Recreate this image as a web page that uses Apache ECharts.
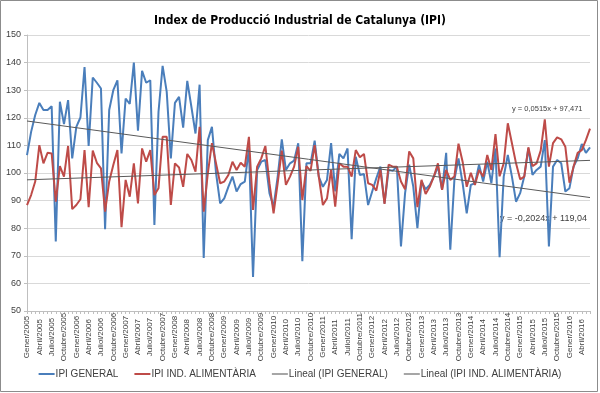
<!DOCTYPE html>
<html><head><meta charset="utf-8">
<script src="https://cdn.jsdelivr.net/npm/echarts@6/dist/echarts.min.js"></script>
<style>html,body{margin:0;padding:0;background:#fff}#c{width:600px;height:393px}</style>
</head><body><div id="c"></div>
<script>
const monthNames = ["Gener","Febrer","Març","Abril","Maig","Juny","Juliol","Agost","Setembre","Octubre","Novembre","Desembre"];
const startYear = 2005;
const monthCount = 138;
const categories = [];
for (let i = 0; i < monthCount; i++) categories.push(monthNames[i % 12] + "/" + (startYear + Math.floor(i / 12)));

const ipiGeneral = [
106.5,114.9,121,125.4,122.8,122.8,124.2,75.2,125.8,117.7,126.4,105.3,
116.7,120.1,138.4,109.8,134.6,132.7,130.6,79.6,122.8,130,133.6,107.1,
127,125,140,115.3,137,132.7,133.6,81.2,122.2,138.8,129.4,105.3,
125.4,127.6,116.4,133.4,124,114.3,132,69.2,111.9,116.7,100,89,
90.8,95,98.7,93.3,96,96.9,108.9,62.3,101.1,104.1,104.7,92.7,
87.8,98.7,112.2,101.1,103.5,104.5,110.8,68,103.5,103.5,111.7,98.7,
95,97.5,110.8,93.3,106.9,105.3,108.9,76,105.9,99.3,99.6,88.4,
93.3,98.1,102.3,89,101.1,100.8,102.3,73.4,92.7,103,95,80,
96.9,94.1,95.7,98.7,102.3,93.9,107.3,72.2,97.5,105.3,96.3,85.4,
95.7,96.3,103,96.9,104.1,96.3,108.9,69.5,98.7,106.5,98.7,89.6,
92.7,98.7,108.9,99.3,101.1,102.3,111.9,73.4,102.3,104.7,103.5,93.3,
94.5,102.3,105.3,110.5,107.3,109.3
];
const ipiAlimentaria = [
88.4,92,96.9,110.1,103.5,107.3,107.1,89.6,102.5,98.7,109.8,86.9,
88.4,90.5,108.3,87.6,108.1,103.7,101.7,86,96.9,102.9,108.3,80.4,
97.5,91.4,103.5,89,108.9,104.1,108.3,92,94.5,113.1,113.1,88.4,
103.5,102,95,106.9,104.7,100.5,116.7,86,99.9,110.8,103.5,96.3,
96.9,99.3,104.1,101.1,103.7,102.3,113.1,86.6,102.3,105.3,109.8,96.3,
85.4,96.3,108.1,95.7,98.7,102.3,109.5,90.2,102.5,100.8,110.1,98.7,
88.4,90.8,101.1,87.8,103.5,102.3,102.3,98.7,108.3,105.7,106.9,96.3,
95.7,93.6,101.1,88.8,103,102.3,102.3,96.9,94.1,107.8,105.3,87.6,
97.5,92.4,95,98.7,103.5,93.9,101.1,97.5,98.7,110.6,104.1,95,
100.1,95.7,101.1,98.7,106.5,101.1,114.1,98.8,103.5,118,110.8,103.5,
97.7,98.7,109.3,102.5,103.5,108.1,119.4,102.3,110.8,112.9,112.2,109.5,
96.5,102.3,107.3,108.3,111.9,116.1
];
// Trend-line coefficients as printed on the chart (x = 1..n)
const trendSlope = [-0.2024, 0.0515];
const trendIntercept = [119.04, 97.471];
const trendLabels = ["y = -0,2024x + 119,04", "y = 0,0515x + 97,471"];
const seriesNames = ["IPI GENERAL", "IPI IND. ALIMENTÀRIA", "Lineal (IPI GENERAL)", "Lineal (IPI IND. ALIMENTÀRIA)"];
const yTicks = [50, 60, 70, 80, 90, 100, 110, 120, 130, 140, 150];

function trendData(k) {
  const arr = new Array(monthCount).fill(null);
  arr[0] = +(trendSlope[k] * 1 + trendIntercept[k]).toFixed(3);
  arr[monthCount - 1] = +(trendSlope[k] * monthCount + trendIntercept[k]).toFixed(3);
  return arr;
}

const chart = echarts.init(document.getElementById('c'));
const FONT = '"Liberation Sans", Arial, sans-serif';
chart.setOption({
  animation: false,
  textStyle: { fontFamily: FONT },
  title: {
    text: 'Index de Producció Industrial de Catalunya (IPI)',
    left: 'center', top: 10,
    textStyle: { fontFamily: '"DejaVu Sans Condensed", "DejaVu Sans", sans-serif', fontSize: 12, fontWeight: 'bold', color: '#000' }
  },
  grid: { left: 27, right: 10, top: 35, bottom: 82, containLabel: false },
  legend: {
    bottom: 9, left: 'center',
    itemWidth: 16, itemHeight: 2, itemGap: 16,
    icon: 'rect',
    textStyle: { fontSize: 10, color: '#404040', padding: [0, 0, 0, -4] },
    data: seriesNames
  },
  xAxis: {
    type: 'category', data: categories, boundaryGap: false,
    axisLine: { lineStyle: { color: '#bfbfbf' } },
    axisTick: { show: true, interval: 0, length: 3, lineStyle: { color: '#bfbfbf' } },
    axisLabel: { interval: 2, rotate: 90, fontSize: 8, color: '#404040', align: 'center', verticalAlign: 'middle', margin: 26 },
    splitLine: { show: false }
  },
  yAxis: {
    type: 'value', min: yTicks[0], max: yTicks[yTicks.length - 1], interval: 10,
    axisLine: { show: true, lineStyle: { color: '#bfbfbf' } },
    axisTick: { show: true, length: 3, lineStyle: { color: '#bfbfbf' } },
    axisLabel: { fontSize: 9, color: '#404040', margin: 6 },
    splitLine: { lineStyle: { color: '#d9d9d9' } }
  },
  series: [
    { name: seriesNames[0], type: 'line', data: ipiGeneral, showSymbol: false, symbol: 'none', lineStyle: { width: 2, color: '#4a7ebb' }, itemStyle: { color: '#4a7ebb' }, z: 3 },
    { name: seriesNames[1], type: 'line', data: ipiAlimentaria, showSymbol: false, symbol: 'none', lineStyle: { width: 2, color: '#be4b48' }, itemStyle: { color: '#be4b48' }, z: 4 },
    { name: seriesNames[2], type: 'line', data: trendData(0), connectNulls: true, showSymbol: false, symbol: 'none', lineStyle: { width: 1, color: '#595959' }, itemStyle: { color: '#a6a6a6' }, z: 5 },
    { name: seriesNames[3], type: 'line', data: trendData(1), connectNulls: true, showSymbol: false, symbol: 'none', lineStyle: { width: 1, color: '#595959' }, itemStyle: { color: '#a6a6a6' }, z: 5 }
  ],
  graphic: [
    { type: 'rect', shape: { x: 0.5, y: 0.5, width: 597, height: 391 }, style: { fill: null, stroke: '#8c8c8c', lineWidth: 1 }, silent: true },
    { type: 'text', left: 512, top: 105, style: { text: trendLabels[1], fontSize: 7.5, fill: '#404040', fontFamily: FONT } },
    { type: 'text', left: 500, top: 214, style: { text: trendLabels[0], fontSize: 9, fill: '#404040', fontFamily: FONT } }
  ]
});
</script>
</body></html>
